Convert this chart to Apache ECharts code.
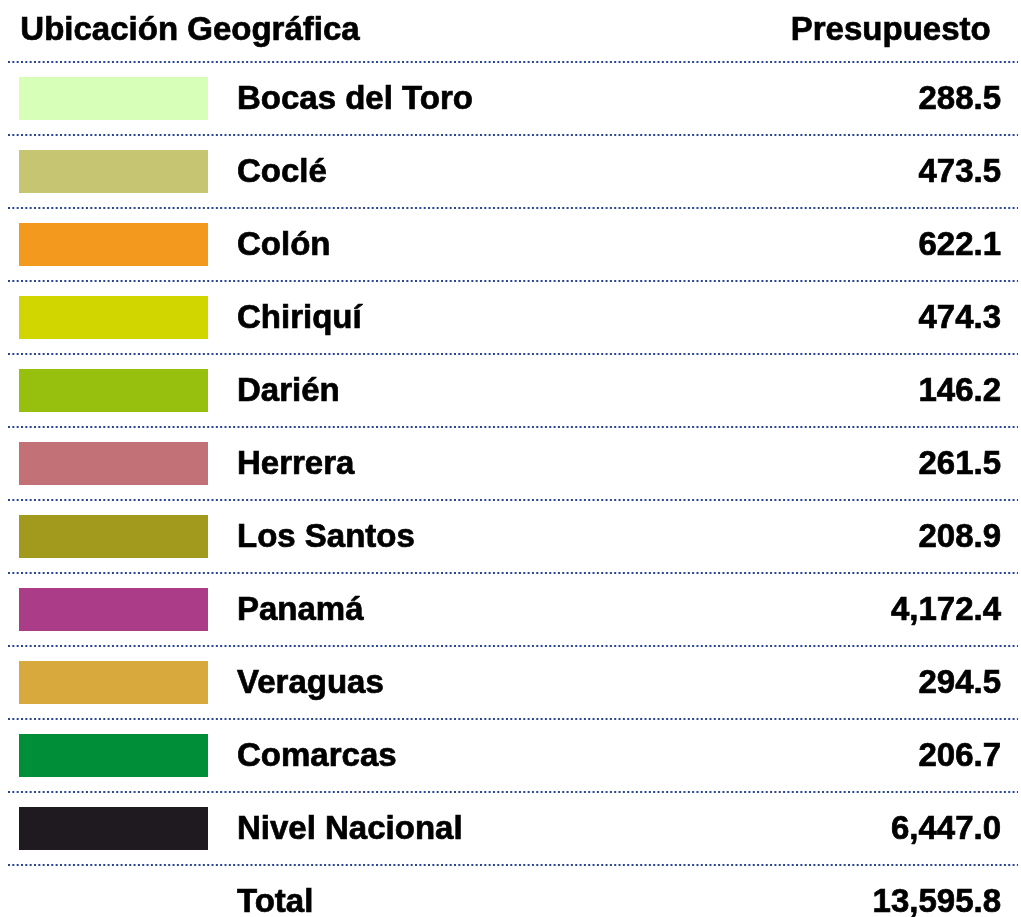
<!DOCTYPE html>
<html>
<head>
<meta charset="utf-8">
<script src="https://cdn.jsdelivr.net/npm/echarts@6/dist/echarts.min.js"></script>
<style>
  html, body { margin: 0; padding: 0; background: #fff; }
  #chart { width: 1021px; height: 917px; }
</style>
</head>
<body>
<div id="chart"></div>
<script>
// datos del cuadro
var regions = ['Bocas del Toro', 'Coclé', 'Colón', 'Chiriquí', 'Darién', 'Herrera',
  'Los Santos', 'Panamá', 'Veraguas', 'Comarcas', 'Nivel Nacional']
var budget = [288.5, 473.5, 622.1, 474.3, 146.2, 261.5, 208.9, 4172.4, 294.5, 206.7, 6447.0]
var swatchColors = ['#d8ffb7', '#c6c572', '#f39a1e', '#d2d600', '#97c00e', '#c27276',
  '#a29a1d', '#ab3c88', '#d8a93c', '#008f39', '#1e1a1f']
var totalLabel = 'Total'
var totalValue = 13595.8
var headers = ['Ubicación Geográfica', 'Presupuesto']

var font = '"Liberation Sans", Arial, Helvetica, sans-serif'

function fmt(v) {
  return v.toLocaleString('en-US', { minimumFractionDigits: 1, maximumFractionDigits: 1 })
}

var categories = regions.concat([totalLabel])
var rows = regions.map(function (name, i) {
  return { value: [name, budget[i]], itemStyle: { color: swatchColors[i] } }
})
rows.push({ value: [totalLabel, totalValue], itemStyle: { color: 'transparent' } })

var chart = echarts.init(document.getElementById('chart'))

// texto en negrita algo más grueso
function boldText(extra) {
  return Object.assign({
    font: 'bold 33px ' + font, fill: '#000', stroke: '#000', lineWidth: 0.7
  }, extra)
}

var option = {
  animation: false,
  backgroundColor: '#fff',
  grid: { left: 8, right: 3, top: 62, height: 876, outerBoundsMode: 'none' },
  xAxis: { type: 'value', min: 0, max: 1, show: false },
  yAxis: {
    type: 'category',
    data: categories,
    inverse: true,
    axisLine: { show: false },
    axisTick: { show: false },
    axisLabel: { show: false },
    splitLine: {
      show: true,
      lineStyle: { color: '#2a4496', width: 2, type: [2, 2.33] }
    }
  },
  graphic: [
    {
      type: 'text', left: 20, top: 14,
      style: boldText({ text: headers[0] })
    },
    {
      type: 'text', right: 30, top: 14,
      style: boldText({ text: headers[1] })
    }
  ],
  series: [{
    type: 'custom',
    encode: { y: 0 },
    data: rows,
    clip: false,
    renderItem: function (params, api) {
      var p = api.coord([0, params.dataIndex])
      var cy = p[1]
      var children = []
      var isTotal = params.dataIndex === regions.length
      if (!isTotal) {
        children.push({
          type: 'rect',
          shape: { x: 19, y: cy - 21.5, width: 189, height: 43 },
          style: { fill: api.visual('color') }
        })
      }
      children.push({
        type: 'text',
        style: boldText({
          x: 237, y: cy + 1.5, text: categories[params.dataIndex],
          textAlign: 'left', textVerticalAlign: 'middle'
        })
      })
      children.push({
        type: 'text',
        style: boldText({
          x: 1001, y: cy + 1.5, text: fmt(api.value(1)),
          textAlign: 'right', textVerticalAlign: 'middle'
        })
      })
      return { type: 'group', children: children }
    }
  }]
}

option && chart.setOption(option)
</script>
</body>
</html>
